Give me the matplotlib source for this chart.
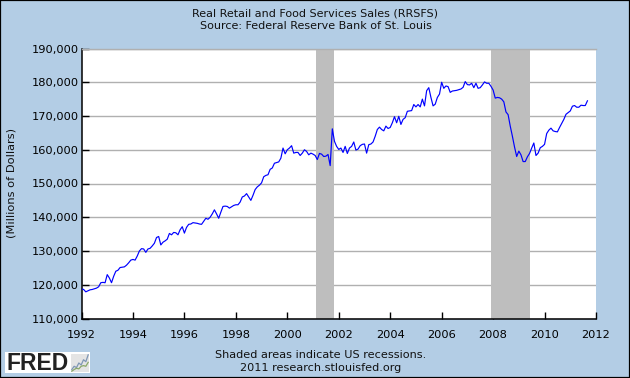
import numpy as np
import matplotlib
matplotlib.use('Agg')
import matplotlib.pyplot as plt
from matplotlib.patches import Rectangle

plt.rcParams['font.family'] = ['DejaVu Sans']

# monthly sales, thousands of millions
y1992 = [118.8, 118.6, 117.9, 118.2, 118.5, 118.6, 118.8, 119.0, 119.4, 120.6, 120.7, 120.6]
y1993 = [123.0, 122.0, 120.6, 122.5, 124.0, 124.3, 125.1, 125.2, 125.3, 125.8, 126.5, 127.3]
y1994 = [127.5, 127.3, 128.5, 130.0, 130.7, 130.6, 129.6, 130.6, 130.8, 131.5, 132.3, 134.0]
y1995 = [134.3, 131.8, 132.6, 133.0, 133.5, 135.2, 134.8, 135.5, 135.4, 134.8, 136.3, 137.2]
y1996 = [135.3, 137.0, 137.9, 138.0, 138.4, 138.3, 138.2, 138.0, 137.9, 138.8, 139.7, 139.4]
y1997 = [140.0, 141.0, 142.2, 141.0, 139.7, 141.5, 143.2, 143.3, 143.2, 142.7, 143.1, 143.5]
y1998 = [143.7, 143.7, 144.5, 146.0, 146.3, 147.0, 146.0, 145.0, 146.5, 148.2, 149.0, 149.5]
y1999 = [150.2, 152.0, 152.4, 152.6, 154.2, 154.6, 156.0, 156.2, 156.4, 157.5, 160.5, 158.8]
y2000 = [160.0, 160.5, 161.2, 159.0, 159.2, 159.2, 158.3, 159.0, 160.0, 159.5, 158.5, 159.0]
y2001 = [158.7, 158.3, 157.1, 158.9, 158.7, 158.0, 158.1, 158.6, 155.3, 166.2, 162.5, 161.0]
y2002 = [160.1, 160.5, 159.2, 161.0, 158.9, 160.5, 161.0, 162.3, 159.9, 160.2, 161.2, 161.6]
y2003 = [161.7, 159.0, 161.5, 161.7, 162.3, 164.0, 166.0, 166.7, 166.0, 165.6, 167.0, 166.3]
y2004 = [166.6, 168.0, 169.8, 168.0, 169.9, 167.5, 169.0, 169.5, 171.4, 171.5, 171.6, 173.4]
y2005 = [172.7, 173.4, 172.7, 175.0, 173.0, 177.5, 178.4, 175.5, 173.0, 173.5, 175.5, 176.5]
y2006 = [180.0, 178.2, 178.9, 178.7, 177.0, 177.4, 177.5, 177.6, 177.8, 178.0, 178.5, 180.2]
y2007 = [179.3, 179.2, 179.7, 178.4, 179.7, 178.2, 178.4, 179.2, 180.1, 179.7, 179.7, 178.8]
y2008 = [177.7, 175.3, 175.5, 175.4, 175.0, 174.2, 171.2, 170.4, 167.0, 164.0, 160.8, 158.0]
y2009 = [159.6, 158.5, 156.5, 156.5, 157.9, 158.9, 160.5, 162.0, 158.3, 159.0, 160.6, 161.0]
y2010 = [161.6, 164.8, 165.8, 166.4, 165.6, 165.4, 165.3, 166.6, 167.8, 169.0, 170.5, 171.0]
y2011 = [171.5, 172.9, 173.1, 172.6, 172.6, 173.2, 173.1, 173.1, 174.5]

sales = np.array(y1992 + y1993 + y1994 + y1995 + y1996 + y1997 + y1998 + y1999 + y2000 + y2001
                 + y2002 + y2003 + y2004 + y2005 + y2006 + y2007 + y2008 + y2009 + y2010 + y2011) * 1000
dates = 1992 + np.arange(len(sales)) / 12

recession_start = [2001.13, 2007.9]
recession_end = [2001.83, 2009.42]

year_ticks = list(range(1992, 2014, 2))
value_ticks = list(range(110000, 200000, 10000))

logo_blue = [1, 2, 1.6, 3, 2.4, 4, 3.4, 5.5]
logo_green = [0.5, 1, 1.4, 1.2, 2, 2.2, 2, 3.2]

W, H = 630, 378
BG = '#b3cde5'
fig = plt.figure(figsize=(W / 100, H / 100), dpi=100, facecolor=BG)
fig.add_artist(Rectangle((0, 0), 1, 1, transform=fig.transFigure, fill=False, ec='black', lw=1.6))

ax = fig.add_axes([81.5 / W, 1 - 318.5 / H, (596 - 81.5) / W, (318.5 - 48.5) / H])
ax.set_xlim(1992, 2012)
ax.set_ylim(110000, 190000)
ax.yaxis.grid(True, color='#b0b0b0', lw=1.0, zorder=1)
ax.set_axisbelow(True)

for a, b in zip(recession_start, recession_end):
    ax.axvspan(a, b, color='#bebebe', lw=0, zorder=1.5)
ax.plot(dates, sales, color='#0000ff', lw=0.85, zorder=3)

ax.set_xticks(year_ticks)
ax.set_yticks(value_ticks)
ax.set_yticklabels([f'{v:,}' for v in value_ticks])
ax.tick_params(axis='both', direction='in', length=5, width=1.0, color='black', labelsize=8.2)
ax.tick_params(axis='y', pad=2)
ax.tick_params(axis='x', pad=8)
ax.spines['right'].set_visible(False)
ax.spines['top'].set_color('#b0b0b0')
ax.spines['top'].set_linewidth(1.0)
for s in ['left', 'bottom']:
    ax.spines[s].set_linewidth(1.1)
ax.set_xticklabels([str(y) for y in year_ticks])

fig.text(12 / W, 1 - 183 / H, '(Millions of Dollars)', rotation=90, fontsize=8.2, ha='center', va='center', color='#111111')
fig.text(315.5 / W, 1 - 13 / H, 'Real Retail and Food Services Sales (RRSFS)', fontsize=8.05, ha='center', va='center', color='#111111')
fig.text(315.5 / W, 1 - 26 / H, 'Source: Federal Reserve Bank of St. Louis', fontsize=8.05, ha='center', va='center', color='#111111')
fig.text(321 / W, 1 - 355 / H, 'Shaded areas indicate US recessions.', fontsize=8.1, ha='center', va='center', color='#111111')
fig.text(321 / W, 1 - 368 / H, '2011 research.stlouisfed.org', fontsize=8.1, ha='center', va='center', color='#111111')

# logo
fig.add_artist(Rectangle((5 / W, 1 - 373 / H), 85 / W, 21 / H, transform=fig.transFigure, fc='white', ec='none'))
fig.text(6 / W, 1 - 363 / H, 'FRED', fontsize=16.5, fontweight='bold', ha='left', va='center',
         family='Liberation Sans', color='#222222')
lg = fig.add_axes([71 / W, 1 - 372 / H, 18 / W, 18 / H], facecolor='#e4e4e4', zorder=5)
lg.plot(logo_blue, color='#7f97b5', lw=0.9)
lg.plot(logo_green, color='#8aa86a', lw=0.9)
lg.set_xticks([])
lg.set_yticks([])
for s in lg.spines.values():
    s.set_visible(False)

fig.savefig('out.png', dpi=100, facecolor=BG)
